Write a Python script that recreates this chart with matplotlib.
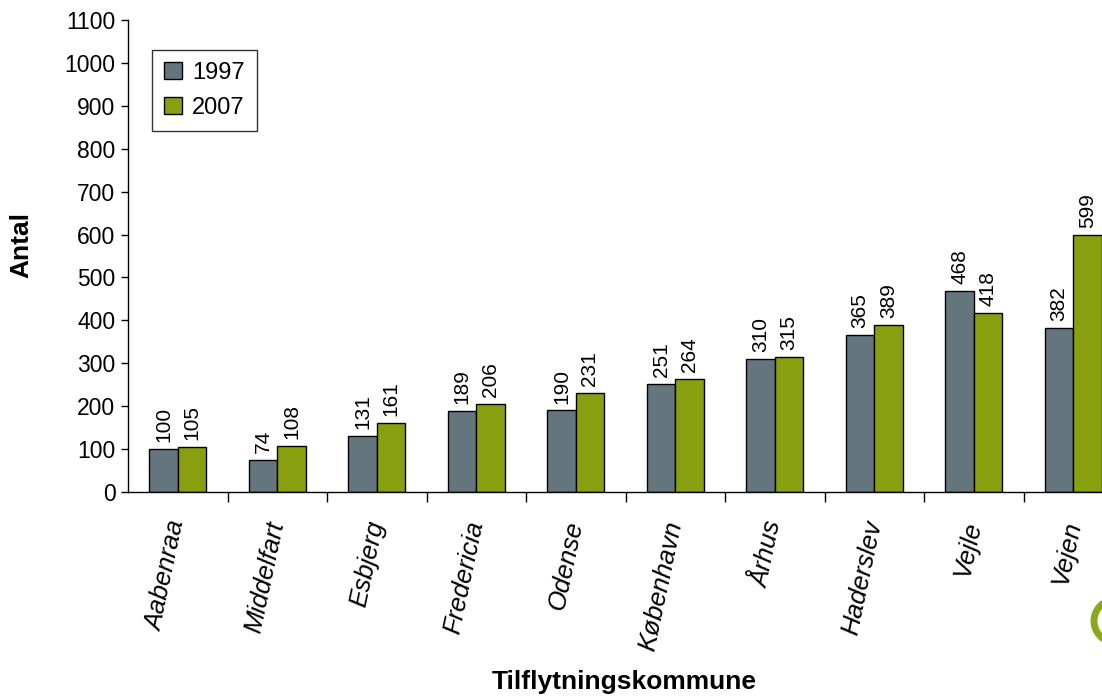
import matplotlib.pyplot as plt
import numpy as np
from matplotlib.patches import Arc

plt.rcParams['font.family'] = ['Liberation Sans', 'DejaVu Sans']

# data
kommuner = ['Aabenraa', 'Middelfart', 'Esbjerg', 'Fredericia', 'Odense',
            'København', 'Århus', 'Haderslev', 'Vejle', 'Vejen']
v1997 = [100, 74, 131, 189, 190, 251, 310, 365, 468, 382]
v2007 = [105, 108, 161, 206, 231, 264, 315, 389, 418, 599]
yticks = list(range(0, 1101, 100))

c1997 = '#64757E'
c2007 = '#88A00F'

W, H = 1102, 697
fig = plt.figure(figsize=(W / 100, H / 100), dpi=100)
# axes runs past the right edge, as in the cropped reference
ax = fig.add_axes([128 / W, 1 - 492 / H, 995 / W, 472 / H])

x = np.arange(len(kommuner))
w = 0.285
b1 = ax.bar(x - w / 2, v1997, w, color=c1997, edgecolor='black', linewidth=1.0, label='1997')
b2 = ax.bar(x + w / 2, v2007, w, color=c2007, edgecolor='black', linewidth=1.0, label='2007')

for bars, vals in ((b1, v1997), (b2, v2007)):
    for r, v in zip(bars, vals):
        ax.annotate(str(v), (r.get_x() + r.get_width() / 2, r.get_height()),
                    xytext=(0, 5), textcoords='offset points',
                    rotation=90, ha='center', va='bottom', fontsize=15)

ax.set_xlim(-0.5, 9.5)
ax.set_ylim(0, 1100)
ax.set_yticks(yticks)
ax.tick_params(axis='y', labelsize=16.5, length=5, width=1, direction='out', pad=4)

# tick marks between groups, labels at the group centres
ax.set_xticks(x[:-1] + 0.5)
ax.set_xticklabels([])
ax.tick_params(axis='x', which='major', length=7, width=1, direction='out')
ax.set_xticks(x, minor=True)
ax.set_xticklabels(kommuner, minor=True, rotation=78, ha='right', va='center',
                   rotation_mode='anchor', fontsize=18.5, style='italic')
ax.tick_params(axis='x', which='minor', length=0, pad=21)

for s in ('top', 'right'):
    ax.spines[s].set_visible(False)
ax.spines['left'].set_linewidth(1)
ax.spines['bottom'].set_linewidth(1)

ax.set_ylabel('Antal', fontsize=19, fontweight='bold')
ax.yaxis.set_label_coords(-(128 - 33) / 995, (492 - 245) / 472)
ax.set_xlabel('Tilflytningskommune', fontsize=19, fontweight='bold')
ax.xaxis.set_label_coords((624 - 128) / 995, -(670 - 492) / 472)

leg = ax.legend(loc='upper left', bbox_to_anchor=(24 / 995, (492 - 50) / 472), fontsize=17,
                frameon=True, fancybox=False, edgecolor='black',
                handlelength=0.75, handleheight=0.75, handletextpad=0.45,
                borderpad=0.5, labelspacing=0.55, borderaxespad=0)
leg.get_frame().set_linewidth(1)

# fragment of the logo in the corner
fig.add_artist(Arc((1117 / W, 1 - 621 / H), 46 / W, 44 / H,
                   theta1=110, theta2=250, color='#8AA81E', linewidth=5,
                   transform=fig.transFigure))

plt.savefig('out.png', dpi=100)
